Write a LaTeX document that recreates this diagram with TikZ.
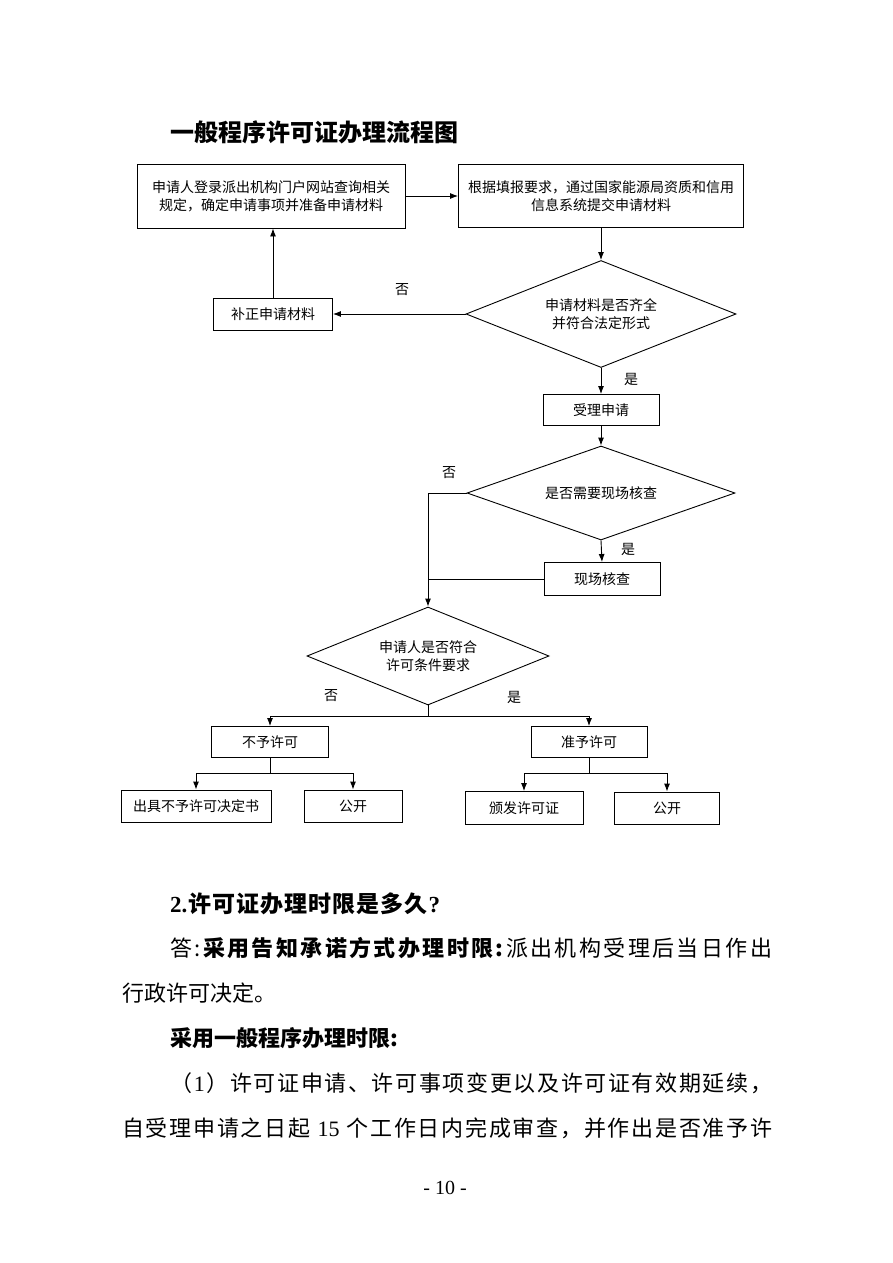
\documentclass[tikz,border=0pt]{standalone}
\usepackage{fontspec}
\setmainfont{Noto Sans CJK SC}
\newfontfamily\lat{Liberation Serif}
\usetikzlibrary{arrows.meta,shapes.geometric}
\ExplSyntaxOn
\NewDocumentCommand\spreadline{mm}{\makebox[#1][s]{\tl_map_inline:nn{#2}{##1\hfil}\unskip}}
\ExplSyntaxOff
\begin{document}
\begin{tikzpicture}[x=1pt,y=-1pt,
  box/.style={draw, line width=0.9pt, inner sep=0pt, align=center, font=\fontsize{14}{18}\selectfont},
  dia/.style={draw, diamond, line width=0.9pt, inner sep=0pt, align=center, font=\fontsize{14}{18}\selectfont},
  arr/.style={line width=0.9pt, -{Latex[length=8pt,width=6pt]}},
  ln/.style={line width=0.9pt},
  lbl/.style={font=\fontsize{14}{16}\selectfont, inner sep=0pt},
  body/.style={anchor=base west, inner sep=0pt, font=\fontsize{22}{22}\selectfont}]
\useasboundingbox[fill=white] (0,0) rectangle (893,1263);

\node[anchor=west, inner sep=0pt, font=\fontsize{24}{24}\selectfont\bfseries] (title) at (170,132) {一般程序许可证办理流程图};

\node[box, minimum width=268pt, minimum height=64pt] (b1) at (271,196) {申请人登录派出机构门户网站查询相关\\规定，确定申请事项并准备申请材料};
\node[box, minimum width=285pt, minimum height=63pt] (b2) at (601,196) {根据填报要求，通过国家能源局资质和信用\\信息系统提交申请材料};
\node[dia, aspect=2.52, minimum width=270pt, minimum height=107pt] (d1) at (601,314) {申请材料是否齐全\\并符合法定形式};
\node[box, minimum width=119pt, minimum height=32pt] (fix) at (273,314) {补正申请材料};
\node[box, minimum width=116pt, minimum height=31pt] (acc) at (601,410) {受理申请};
\node[dia, aspect=2.85, minimum width=268pt, minimum height=94pt] (d2) at (601,493) {是否需要现场核查};
\node[box, minimum width=116pt, minimum height=33pt] (site) at (602,579) {现场核查};
\node[dia, aspect=2.47, minimum width=242pt, minimum height=98pt] (d3) at (428,656) {申请人是否符合\\许可条件要求};
\node[box, minimum width=117pt, minimum height=31pt] (no) at (270,742) {不予许可};
\node[box, minimum width=116pt, minimum height=31pt] (yes) at (589,742) {准予许可};
\node[box, minimum width=150pt, minimum height=32pt] (n1) at (196,806) {出具不予许可决定书};
\node[box, minimum width=98pt, minimum height=32pt] (n2) at (353,806) {公开};
\node[box, minimum width=118pt, minimum height=33pt] (y1) at (524,808) {颁发许可证};
\node[box, minimum width=105pt, minimum height=32pt] (y2) at (667,808) {公开};

\draw[arr] (b1.east) -- (b1.east -| b2.west);
\draw[arr] (b2.south) -- (d1.north);
\draw[arr] (d1.west) -- (fix.east);
\draw[arr] (fix.north) -- (fix.north |- b1.south);
\node[lbl] (l1) at (402,290) {否};
\draw[arr] (d1.south) -- (acc.north);
\node[lbl] (l2) at (631,379) {是};
\draw[arr] (acc.south) -- (d2.north);
\draw[arr] (d2.west) -- (d2.west -| d3.north) -- (d3.north);
\node[lbl] (l3) at (449,473) {否};
\draw[arr] (d2.south) -- (site.north);
\node[lbl] (l4) at (628,549) {是};
\draw[ln] (site.west) -- (site.west -| d3.north);
\coordinate (s3) at (428,716);
\draw[ln] (d3.south) -- (s3);
\draw[arr] (s3) -| (no.north);
\draw[arr] (s3) -| (yes.north);
\node[lbl] (l5) at (331,696) {否};
\node[lbl] (l6) at (514,697) {是};
\coordinate (s4) at (270,773);
\draw[ln] (no.south) -- (s4);
\draw[arr] (s4) -| (n1.north);
\draw[arr] (s4) -| (n2.north);
\coordinate (s5) at (589,773);
\draw[ln] (yes.south) -- (s5);
\draw[arr] (s5) -| (y1.north);
\draw[arr] (s5) -| (y2.north);

\node[body, font=\fontsize{23}{23}\selectfont\bfseries] (t1) at (170,912) {\spreadline{270pt}{{{\lat 2.}}许可证办理时限是多久{{\lat ?}}}};
\node[body] (t2) at (170,956) {\spreadline{602pt}{答{:}{\bfseries 采}用告知承诺方式办理时限{:}{\mdseries 派}出机构受理后当日作出}};
\node[body] (t3) at (122,1001) {行政许可决定。};
\node[body, font=\fontsize{22}{22}\selectfont\bfseries] (t4) at (170,1046) {采用一般程序办理时限:};
\node[body] (t5) at (170,1091) {\spreadline{602pt}{（{{\lat 1}}）许可证申请、许可事项变更以及许可证有效期延续，}};
\node[body] (t6) at (122,1136) {\spreadline{650pt}{自受理申请之日起{{\lat\ 15\ }}个工作日内完成审查，并作出是否准予许}};
\node[inner sep=0pt, font=\lat\fontsize{20}{20}\selectfont] (pg) at (445,1188) {- 10 -};
\end{tikzpicture}
\end{document}
